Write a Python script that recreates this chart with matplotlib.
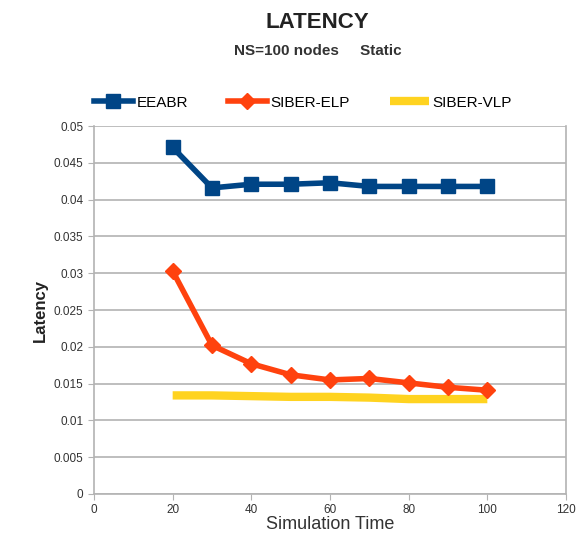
import matplotlib.pyplot as plt

plt.rcParams['font.family'] = ['Liberation Sans', 'DejaVu Sans']

sim_time = [20, 30, 40, 50, 60, 70, 80, 90, 100]
eeabr = [0.0471, 0.0416, 0.0421, 0.0421, 0.0423, 0.0418, 0.0418, 0.0418, 0.0418]
siber_elp = [0.0303, 0.0202, 0.0177, 0.0162, 0.0155, 0.0157, 0.0151, 0.0145, 0.0141]
siber_vlp = [0.0134, 0.0134, 0.0133, 0.0132, 0.0132, 0.0131, 0.0129, 0.0129, 0.0129]

fig = plt.figure(figsize=(5.82, 5.41), dpi=100)
ax = fig.add_axes([0.1615, 0.0869, 0.811, 0.680])

grid_col = "#b3b3b3"
ax.plot(sim_time, siber_vlp, color="#ffd320", lw=6, solid_capstyle="butt",
        label="SIBER-VLP", zorder=3)
ax.plot(sim_time, siber_elp, color="#ff420e", lw=4, marker="D", ms=8,
        label="SIBER-ELP", zorder=4)
ax.plot(sim_time, eeabr, color="#004586", lw=4, marker="s", ms=10,
        label="EEABR", zorder=5)

ax.set_xlim(0, 120)
ax.set_ylim(0, 0.05)
ax.set_xticks(range(0, 121, 20))
ax.set_yticks([i * 0.005 for i in range(11)])
ax.set_yticklabels(["0", "0.005", "0.01", "0.015", "0.02", "0.025", "0.03",
                    "0.035", "0.04", "0.045", "0.05"])
ax.yaxis.grid(True, color=grid_col, lw=1.2)
ax.tick_params(labelsize=8.5, colors="#333333", length=4, color=grid_col)
for s in ["left", "bottom", "right"]:
    ax.spines[s].set_color(grid_col)
    ax.spines[s].set_linewidth(1.2)
ax.spines["top"].set_visible(False)

ax.set_xlabel("Simulation Time", fontsize=13, color="#333333", labelpad=0)
ax.set_ylabel("Latency", fontsize=12, fontweight="bold", color="#222222", labelpad=4)

fig.text(0.546, 0.958, "LATENCY", ha="center", va="center", fontsize=16,
         fontweight="bold", color="#222222")
fig.text(0.546, 0.906, "NS=100 nodes     Static", ha="center", va="center",
         fontsize=11, fontweight="bold", color="#333333")

handles, labels = ax.get_legend_handles_labels()
order = [2, 1, 0]
fig.legend([handles[i] for i in order], [labels[i] for i in order],
           loc="center", bbox_to_anchor=(0.52, 0.81), ncol=3, frameon=False,
           fontsize=11, handlelength=2.6, columnspacing=2.6, handletextpad=0.2)

fig.savefig("out.png", dpi=100)
